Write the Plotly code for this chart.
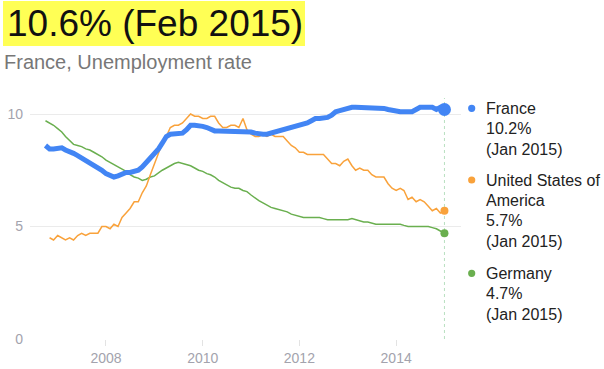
import plotly.graph_objects as go
import pandas as pd

# ---------------- data ----------------
france = [8.6, 8.45, 8.45, 8.5, 8.5, 8.4, 8.35, 8.25, 8.15, 8.05,
          7.95, 7.85, 7.75, 7.65, 7.5, 7.35, 7.25, 7.2, 7.25, 7.35,
          7.4, 7.4, 7.45, 7.5, 7.65, 7.85, 8.0, 8.2, 8.45, 8.7,
          9.0, 9.1, 9.1, 9.1, 9.15, 9.3, 9.5, 9.5, 9.5, 9.45,
          9.4, 9.3, 9.25, 9.25, 9.25, 9.2, 9.25, 9.25, 9.2, 9.2,
          9.2, 9.2, 9.15, 9.1, 9.1, 9.1, 9.15, 9.2, 9.25, 9.3,
          9.3, 9.35, 9.4, 9.45, 9.5, 9.6, 9.7, 9.8, 9.8, 9.8,
          9.85, 9.95, 10.1, 10.15, 10.2, 10.3, 10.3, 10.3, 10.3, 10.3,
          10.3, 10.3, 10.3, 10.3, 10.25, 10.2, 10.15, 10.1, 10.1, 10.1,
          10.1, 10.1, 10.2, 10.3, 10.3, 10.3, 10.3, 10.2, 10.3, 10.2]
germany = [9.7, 9.6, 9.5, 9.35, 9.2, 9.0, 8.8, 8.65, 8.6, 8.55,
           8.45, 8.4, 8.3, 8.2, 8.1, 7.95, 7.85, 7.75, 7.65, 7.55,
           7.45, 7.3, 7.2, 7.15, 7.05, 7.1, 7.2, 7.25, 7.4, 7.5,
           7.6, 7.7, 7.8, 7.85, 7.8, 7.75, 7.7, 7.6, 7.5, 7.45,
           7.35, 7.3, 7.2, 7.05, 6.95, 6.85, 6.75, 6.7, 6.7, 6.6,
           6.55, 6.4, 6.25, 6.15, 6.05, 5.95, 5.85, 5.8, 5.75, 5.7,
           5.65, 5.55, 5.5, 5.45, 5.4, 5.4, 5.4, 5.4, 5.4, 5.35,
           5.3, 5.3, 5.3, 5.3, 5.3, 5.3, 5.35, 5.3, 5.25, 5.2,
           5.2, 5.15, 5.1, 5.1, 5.1, 5.1, 5.1, 5.1, 5.1, 5.05,
           5.0, 5.0, 5.0, 5.0, 5.0, 5.0, 4.95, 4.9, 4.8, 4.7]
usa = [4.5, 4.4,
       4.6, 4.5, 4.4, 4.5, 4.4, 4.6, 4.7, 4.6, 4.7, 4.7, 4.7, 5.0,
       5.0, 4.9, 5.1, 5.0, 5.4, 5.6, 5.8, 6.1, 6.1, 6.5, 6.8, 7.3,
       7.8, 8.3, 8.7, 9.0, 9.4, 9.5, 9.5, 9.6, 9.8, 10.0, 9.9, 9.9,
       9.8, 9.8, 9.9, 9.9, 9.6, 9.4, 9.4, 9.5, 9.5, 9.4, 9.8, 9.3,
       9.1, 9.0, 9.0, 9.1, 9.0, 9.1, 9.0, 9.0, 9.0, 8.8, 8.6, 8.5,
       8.3, 8.3, 8.2, 8.2, 8.2, 8.2, 8.2, 8.0, 7.8, 7.8, 7.7, 7.9,
       8.0, 7.7, 7.5, 7.6, 7.5, 7.5, 7.3, 7.2, 7.2, 7.2, 6.9, 6.7,
       6.6, 6.7, 6.6, 6.2, 6.3, 6.1, 6.2, 6.1, 5.9, 5.7, 5.8, 5.6,
       5.7]
france_start = "2006-10-01"
germany_start = "2006-10-01"
usa_start = "2006-11-01"

year_ticks = ["2008-01-01", "2010-01-01", "2012-01-01", "2014-01-01"]
year_labels = ["2008", "2010", "2012", "2014"]
y_ticks = [0, 5, 10]
y_labels = ["0", "5", "10"]

headline = "10.6% (Feb 2015)"
subtitle = "France, Unemployment rate"
legend_names = [["France"], ["United States of", "America"], ["Germany"]]

# ---------------- layout geometry ----------------
W, H = 604, 369
L, R, T, B = 30, 143, 100, 30
PW, PH = W - L - R, H - T - B


def px(x):
    return (x - L) / PW


def py(y):
    return (H - B - y) / PH


BLUE = "#4285F4"
ORANGE = "#F9A23B"
GREEN = "#6AAF4F"
FONT = "Arial, Liberation Sans, sans-serif"

series = [
    ("France", france, france_start, BLUE, 5, 13),
    ("United States of America", usa, usa_start, ORANGE, 1.5, 8),
    ("Germany", germany, germany_start, GREEN, 1.5, 8),
]

fig = go.Figure()
for name, vals, start, color, lw, ms in reversed(series):
    dates = pd.date_range(start, periods=len(vals), freq="MS")
    fig.add_trace(go.Scatter(x=dates, y=vals, mode="lines", name=name,
                             line=dict(color=color, width=lw),
                             hoverinfo="skip", showlegend=False))
for name, vals, start, color, lw, ms in reversed(series):
    dates = pd.date_range(start, periods=len(vals), freq="MS")
    fig.add_trace(go.Scatter(x=[dates[-1]], y=[vals[-1]], mode="markers",
                             marker=dict(color=color, size=ms),
                             cliponaxis=False, hoverinfo="skip",
                             showlegend=False))

annotations = []
shapes = []

shapes.append(dict(type="rect", xref="paper", yref="paper",
                   x0=px(3), x1=px(305), y0=py(46), y1=py(1),
                   fillcolor="#FFFF55", line=dict(width=0), layer="below"))
annotations.append(dict(text=headline, xref="paper", yref="paper",
                        x=px(5), y=py(23), xanchor="left", yanchor="middle",
                        showarrow=False, font=dict(family=FONT, size=37, color="#111111")))
annotations.append(dict(text=subtitle, xref="paper", yref="paper",
                        x=px(2), y=py(62), xanchor="left", yanchor="middle",
                        showarrow=False, font=dict(family=FONT, size=20, color="#777777")))

last_date = pd.date_range(france_start, periods=len(france), freq="MS")[-1]
shapes.append(dict(type="line", xref="x", yref="paper",
                   x0=last_date, x1=last_date, y0=0, y1=py(98),
                   line=dict(color="#B8E0C0", width=1, dash="dot"), layer="below"))

group_tops = [108.3, 180.0, 273.3]
line_gap = 20.4
for (name, vals, start, color, lw, ms), names, gy in zip(series, legend_names, group_tops):
    dates = pd.date_range(start, periods=len(vals), freq="MS")
    lines = names + [f"{vals[-1]:.1f}%", dates[-1].strftime("(%b %Y)")]
    shapes.append(dict(type="circle", xref="paper", yref="paper",
                       xsizemode="pixel", ysizemode="pixel",
                       xanchor=px(471.7), yanchor=py(gy),
                       x0=-3.6, x1=3.6, y0=-3.6, y1=3.6,
                       fillcolor=color, line=dict(width=0)))
    for i, t in enumerate(lines):
        annotations.append(dict(text=t, xref="paper", yref="paper",
                                x=px(484), y=py(gy + i * line_gap),
                                xanchor="left", yanchor="middle", showarrow=False,
                                font=dict(family=FONT, size=16, color="#222222")))

fig.update_layout(
    width=W, height=H,
    margin=dict(l=L, r=R, t=T, b=B, pad=0, autoexpand=False),
    paper_bgcolor="white", plot_bgcolor="white",
    font=dict(family=FONT),
    annotations=annotations, shapes=shapes,
    xaxis=dict(type="date", range=["2006-06-06", "2015-05-06"],
               tickvals=year_ticks, ticktext=year_labels, automargin=False,
               showgrid=False, zeroline=False, showline=False,
               ticks="outside", ticklen=6, tickcolor="#E3E3E3",
               tickfont=dict(family=FONT, size=14, color="#A3A3AD")),
    yaxis=dict(range=[0, PH / 22.5], tickvals=y_ticks, ticktext=y_labels,
               automargin=False,
               showgrid=True, gridcolor="#EBEBEB", gridwidth=1,
               zeroline=False, showline=False, ticks="",
               ticklabelstandoff=6,
               tickfont=dict(family=FONT, size=14, color="#A3A3AD")),
)

fig.write_html("out.html", config={"displayModeBar": False},
               post_script="document.body.style.margin='0';document.body.style.overflow='hidden';")
